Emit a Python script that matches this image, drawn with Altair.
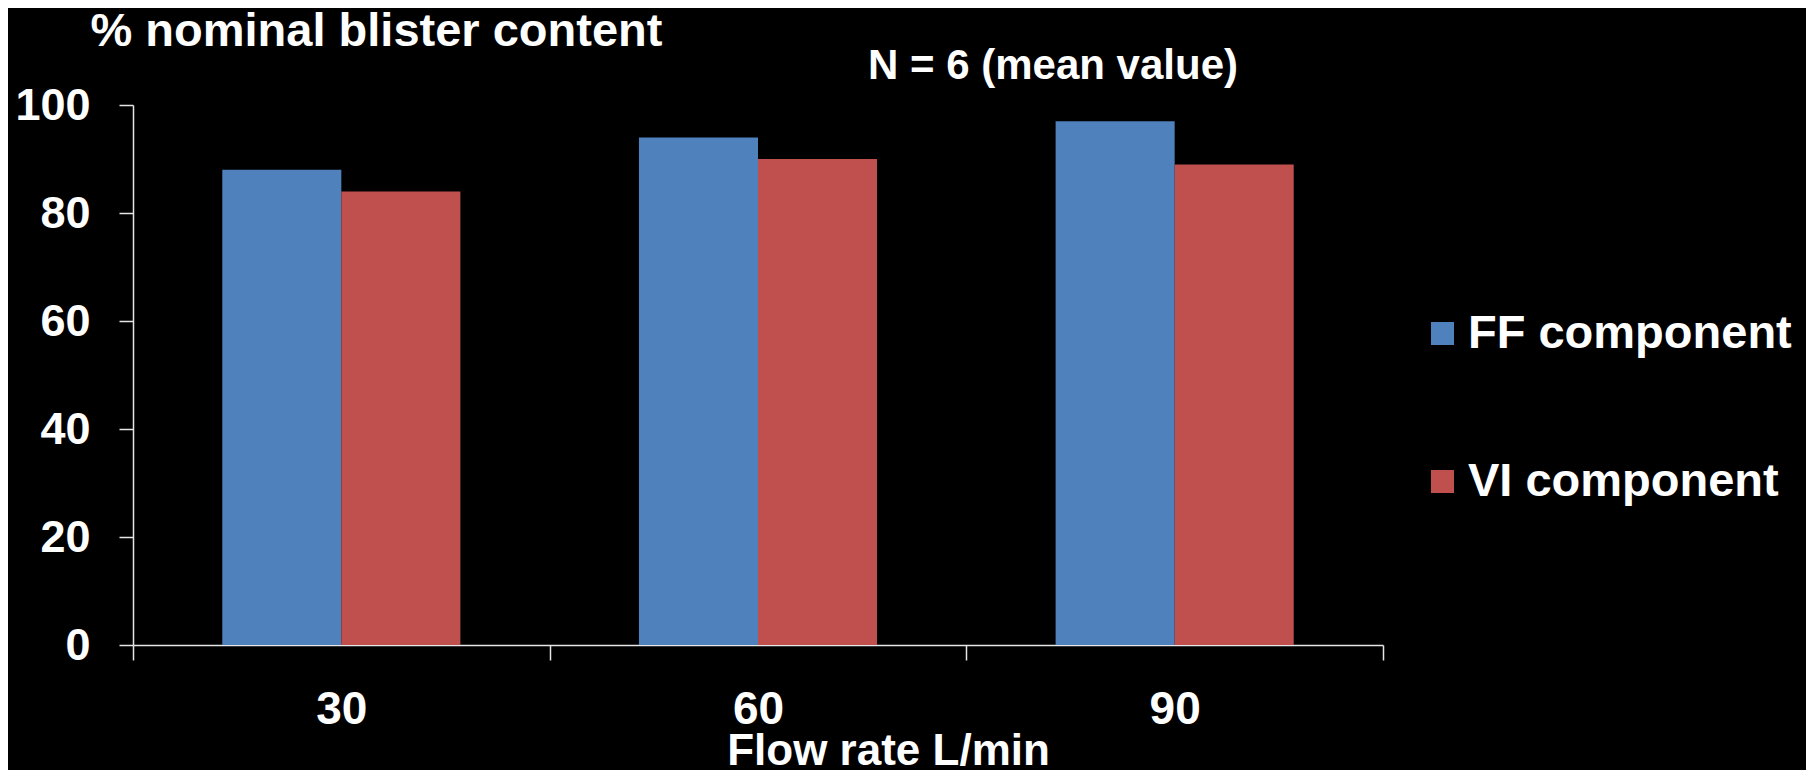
import altair as alt
import pandas as pd

flow_rates = ["30", "60", "90"]
series_names = ["FF component", "VI component"]
ff_values = [88, 94, 97]
vi_values = [84, 90, 89]
series_colors = ["#4F81BD", "#C0504D"]
y_ticks = [0, 20, 40, 60, 80, 100]

rows = []
for name, vals in zip(series_names, [ff_values, vi_values]):
    for f, v in zip(flow_rates, vals):
        rows.append({"flow": f, "series": name, "value": v})
df = pd.DataFrame(rows)

FONT = "Liberation Sans"
AXIS_COLOR = "#e6e6e6"

chart = alt.Chart(df).mark_bar().encode(
    x=alt.X(
        "flow:N", sort=flow_rates,
        scale=alt.Scale(paddingInner=0, paddingOuter=0),
        axis=alt.Axis(
            title="Flow rate L/min", labelAngle=0, tickBand="extent",
            labelFont=FONT, labelFontSize=46, labelFontWeight="bold", labelColor="white",
            labelPadding=27, tickSize=15, tickColor=AXIS_COLOR, domainColor=AXIS_COLOR,
            tickWidth=1.5, domainWidth=1.5,
            titleFont=FONT, titleFontSize=44, titleFontWeight="bold", titleColor="white",
            titleX=755, titleY=119, titleAlign="center", titleBaseline="alphabetic",
        ),
    ),
    xOffset=alt.XOffset(
        "series:N", sort=series_names,
        scale=alt.Scale(paddingInner=0, paddingOuter=0.75),
    ),
    y=alt.Y(
        "value:Q",
        scale=alt.Scale(domain=[0, 100], nice=False),
        axis=alt.Axis(
            values=y_ticks, grid=False,
            labelFont=FONT, labelFontSize=45, labelFontWeight="bold", labelColor="white",
            labelPadding=29, tickSize=14, tickColor=AXIS_COLOR, domainColor=AXIS_COLOR,
            tickWidth=1.5, domainWidth=1.5,
            title="% nominal blister content",
            titleFont=FONT, titleFontSize=47, titleFontWeight="bold", titleColor="white",
            titleAngle=0, titleX=-43, titleY=-60, titleAlign="left", titleBaseline="alphabetic",
        ),
    ),
    color=alt.Color(
        "series:N", sort=series_names,
        scale=alt.Scale(domain=series_names, range=series_colors),
        legend=alt.Legend(
            orient="none", legendX=1286, legendY=205, title=None,
            symbolType="square", symbolSize=529, symbolStrokeWidth=0, symbolOpacity=1,
            labelFont=FONT, labelFontSize=47, labelFontWeight="bold", labelColor="white",
            rowPadding=100, labelOffset=2, padding=0, labelLimit=600,
        ),
    ),
).properties(
    width=1250,
    height=540,
    title=alt.TitleParams(
        text="N = 6 (mean value)", anchor="start", frame="group", dx=735, dy=114,
        font=FONT, fontSize=42, fontWeight="bold", color="white",
        baseline="alphabetic", offset=0,
    ),
    background="black",
    padding={"left": 125, "top": 97, "right": 423, "bottom": 125},
    autosize=alt.AutoSizeParams(type="none"),
).configure_view(stroke=None)

chart.save("out.html", embed_options={"renderer": "svg", "actions": False})
